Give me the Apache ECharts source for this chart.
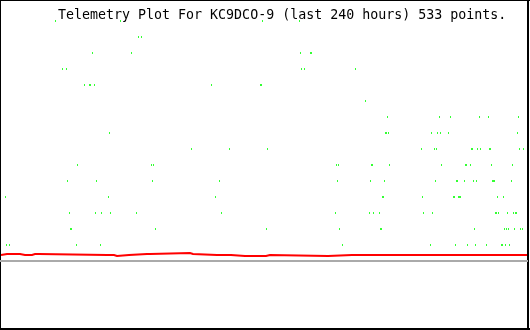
<!DOCTYPE html>
<html>
<head>
<meta charset="utf-8">
<script src="https://cdn.jsdelivr.net/npm/echarts@6/dist/echarts.min.js"></script>
<style>
  html,body{margin:0;padding:0;background:#fff;}
  #main{width:530px;height:330px;}
</style>
</head>
<body>
<div id="main"></div>
<script>
var titleText = 'Telemetry Plot For KC9DCO-9 (last 240 hours) 533 points.';

// green samples: one list of time columns per level (level 1 = lowest row)
var greenLevels = [1,2,3,4,5,6,7,8,9,10,11,12,13,14,15];
var greenCols = [
  [6,9,76,100,342,430,455,467,475,486,501,502,505,509],
  [70,71,155,266,339,380,381,474,504,506,508,514,520,522],
  [69,95,101,110,136,221,335,369,373,379,423,432,495,496,498,507,513,515,516],
  [5,108,215,382,383,422,453,454,458,459,460,497,503],
  [67,96,152,219,337,370,384,435,456,457,464,473,476,492,493,494,511],
  [77,151,153,336,338,371,372,389,441,465,466,470,491,512],
  [191,229,267,421,434,436,471,472,477,480,489,490,519,523],
  [109,385,386,388,431,437,440,448,517],
  [387,439,450,479,488,518],
  [365],
  [84,89,90,94,211,260,261],
  [62,66,301,304,355],
  [92,131,300,310,311],
  [138,141],
  [55,120,262,299]
];

// red trace: value holds from each column until the next one
var redX = [1,3,7,8,20,25,26,32,35,36,39,107,108,114,117,129,147,148,150,190,193,217,219,224,226,231,245,246,266,270,328,352,353,482,483,527];
var redY = [70,71,70,71,70,71,70,71,70,71,70,69,70,69,70,71,72,71,72,71,70,69,70,69,70,69,70,69,70,69,70,69,70,69,70,70];

var baseValue = 64;
var baseX = [0, 528];

var greenData = [];
greenLevels.forEach(function(lv, i){
  greenCols[i].forEach(function(c){ greenData.push([c, lv]); });
});
// expand to explicit steps
var redData = [];
redX.forEach(function(x, i){
  if (i > 0) redData.push([x, redY[i - 1]]);
  redData.push([x, redY[i]]);
});
var baseData = baseX.map(function(x){ return [x, baseValue]; });

var myChart = echarts.init(document.getElementById('main'));
var option = {
  backgroundColor: '#fff',
  animation: false,
  grid: {left: 0, right: 0, top: 5, bottom: 5, show: false},
  xAxis: [{type: 'value', min: 0, max: 530, show: false}],
  yAxis: [
    {type: 'value', min: -4, max: 16, show: false},
    {type: 'value', min: 0, max: 320, show: false}
  ],
  graphic: [
    {type: 'text', left: 58, top: 9, z: 10,
     style: {text: titleText, font: '13.3px "DejaVu Sans Mono"', fill: '#000'}},
    {type: 'rect', shape: {x: 0, y: 0, width: 530, height: 1}, style: {fill: '#000'}},
    {type: 'rect', shape: {x: 0, y: 0, width: 1, height: 330}, style: {fill: '#000'}},
    {type: 'rect', shape: {x: 0, y: 328, width: 530, height: 2}, style: {fill: '#000'}},
    {type: 'rect', shape: {x: 527, y: 0, width: 2, height: 330}, style: {fill: '#000'}}
  ],
  series: [
    {
      name: 'base', type: 'line', yAxisIndex: 1, data: baseData,
      symbol: 'none', lineStyle: {color: '#aaaaaa', width: 2}, silent: true
    },
    {
      name: 'red', type: 'line', yAxisIndex: 1, data: redData,
      symbol: 'none', smooth: false, lineStyle: {color: '#ff0000', width: 2, join: 'miter', cap: 'butt'}, silent: true
    },
    {
      name: 'green', type: 'scatter', yAxisIndex: 0, data: greenData,
      symbol: 'rect', symbolSize: [1, 2], symbolOffset: [0.5, 0],
      itemStyle: {color: '#00ff00'}, silent: true
    }
  ]
};
myChart.setOption(option);
</script>
</body>
</html>
